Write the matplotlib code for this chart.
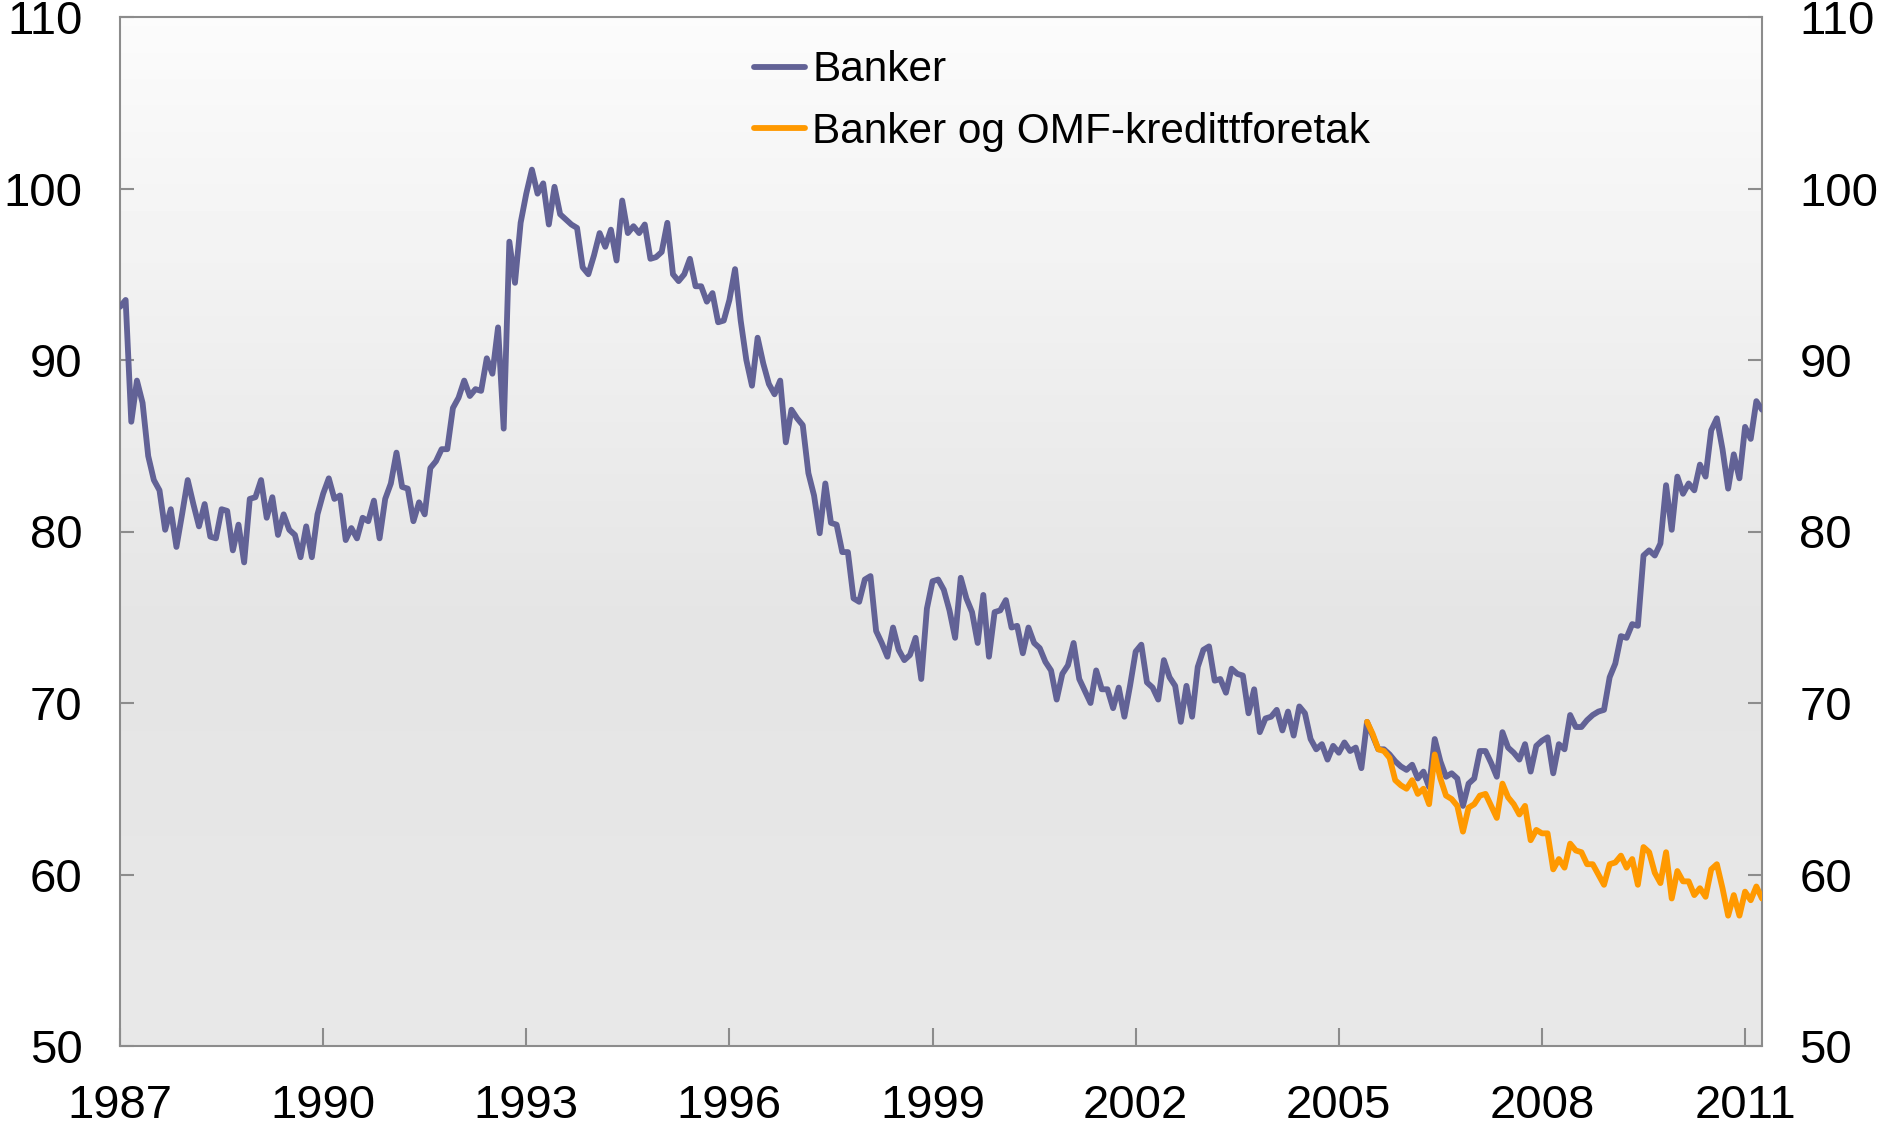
import numpy as np
import matplotlib
matplotlib.use("Agg")
import matplotlib.pyplot as plt

plt.rcParams['font.family'] = ['Liberation Sans', 'DejaVu Sans']

# månedlige verdier, jan 1987 - apr 2011
start_year = 1987
banker = [
    93.1, 93.5, 86.4, 88.8, 87.5, 84.4, 83.0, 82.4, 80.1, 81.3, 79.1, 81.0,
    83.0, 81.6, 80.3, 81.6, 79.7, 79.6, 81.3, 81.2, 78.9, 80.4, 78.2, 81.9,
    82.0, 83.0, 80.8, 82.0, 79.8, 81.0, 80.1, 79.8, 78.5, 80.3, 78.5, 81.0,
    82.2, 83.1, 81.9, 82.1, 79.5, 80.2, 79.6, 80.8, 80.6, 81.8, 79.6, 81.9,
    82.8, 84.6, 82.6, 82.5, 80.6, 81.7, 81.0, 83.7, 84.1, 84.8, 84.8, 87.2,
    87.8, 88.8, 87.9, 88.3, 88.2, 90.1, 89.2, 91.9, 86.0, 96.9, 94.5, 98.0,
    99.7, 101.1, 99.7, 100.3, 97.9, 100.1, 98.5, 98.2, 97.9, 97.7, 95.4, 95.0,
    96.1, 97.4, 96.6, 97.6, 95.8, 99.3, 97.4, 97.8, 97.4, 97.9, 95.9, 96.0,
    96.3, 98.0, 95.0, 94.6, 95.0, 95.9, 94.3, 94.3, 93.4, 93.9, 92.2, 92.3,
    93.5, 95.3, 92.3, 90.0, 88.5, 91.3, 89.8, 88.6, 88.0, 88.8, 85.2, 87.1,
    86.6, 86.2, 83.4, 82.1, 79.9, 82.8, 80.5, 80.4, 78.8, 78.8, 76.1, 75.9,
    77.2, 77.4, 74.2, 73.5, 72.7, 74.4, 73.1, 72.5, 72.8, 73.8, 71.4, 75.5,
    77.1, 77.2, 76.6, 75.4, 73.8, 77.3, 76.1, 75.3, 73.5, 76.3, 72.7, 75.3,
    75.4, 76.0, 74.4, 74.5, 72.9, 74.4, 73.5, 73.2, 72.4, 71.9, 70.2, 71.7,
    72.2, 73.5, 71.4, 70.7, 70.0, 71.9, 70.8, 70.8, 69.7, 70.9, 69.2, 71.0,
    73.0, 73.4, 71.2, 70.9, 70.2, 72.5, 71.5, 71.0, 68.9, 71.0, 69.2, 72.1,
    73.1, 73.3, 71.3, 71.4, 70.6, 72.0, 71.7, 71.6, 69.4, 70.8, 68.3, 69.1,
    69.2, 69.6, 68.4, 69.5, 68.1, 69.8, 69.4, 67.9, 67.3, 67.6, 66.7, 67.5,
    67.1, 67.7, 67.2, 67.4, 66.2, 68.9, 68.1, 67.3, 67.3, 67.0, 66.6, 66.3,
    66.1, 66.4, 65.6, 66.0, 65.1, 67.9, 66.6, 65.7, 65.9, 65.6, 64.0, 65.3,
    65.6, 67.2, 67.2, 66.5, 65.7, 68.3, 67.4, 67.1, 66.7, 67.6, 66.0, 67.5,
    67.8, 68.0, 65.9, 67.6, 67.3, 69.3, 68.6, 68.6, 69.0, 69.3, 69.5, 69.6,
    71.5, 72.3, 73.9, 73.8, 74.6, 74.5, 78.6, 78.9, 78.6, 79.3, 82.7, 80.1,
    83.2, 82.2, 82.8, 82.4, 83.9, 83.2, 85.9, 86.6, 84.8, 82.5, 84.5, 83.1,
    86.1, 85.4, 87.6, 87.1,
]

# starter juni 2005 (måned nr. 221 fra jan 1987)
omf_start = 221
banker_omf = [
    68.9, 68.2, 67.3, 67.2, 66.8, 65.5, 65.2, 65.0, 65.5, 64.7, 65.0, 64.1,
    67.0, 65.6, 64.6, 64.4, 64.0, 62.5, 63.9, 64.1, 64.6, 64.7, 64.0, 63.3,
    65.3, 64.5, 64.1, 63.5, 64.0, 62.0, 62.6, 62.4, 62.4, 60.3, 60.9, 60.4,
    61.8, 61.4, 61.3, 60.6, 60.6, 60.0, 59.4, 60.6, 60.7, 61.1, 60.4, 60.9,
    59.4, 61.6, 61.3, 60.1, 59.5, 61.3, 58.6, 60.2, 59.6, 59.6, 58.8, 59.2,
    58.7, 60.3, 60.6, 59.2, 57.6, 58.8, 57.6, 59.0, 58.5, 59.3, 58.6,
]

labels = ['Banker', 'Banker og OMF-kredittforetak']
colors = ['#626296', '#ff9900']
year_ticks = list(range(1987, 2012, 3))
y_ticks = list(range(50, 111, 10))

x1 = start_year + np.arange(len(banker)) / 12
x2 = start_year + (omf_start + np.arange(len(banker_omf))) / 12

fig = plt.figure(figsize=(18.83, 11.24), dpi=100)
ax = fig.add_axes([120 / 1883, 1 - 1046 / 1124, 1642 / 1883, 1029 / 1124])

# bakgrunn med gradient
grad = np.concatenate([np.linspace(0.985, 0.895, 60), np.linspace(0.895, 0.91, 40)])
ax.imshow(grad[:, None], cmap='gray', vmin=0, vmax=1, aspect='auto',
          extent=[0, 1, 0, 1], transform=ax.transAxes, zorder=0,
          interpolation='bilinear')

ax.plot(x1, banker, color=colors[0], lw=4.2, label=labels[0],
        solid_joinstyle='round', solid_capstyle='round', zorder=3)
ax.plot(x2, banker_omf, color=colors[1], lw=4.2, label=labels[1],
        solid_joinstyle='round', solid_capstyle='round', zorder=4)

ax.set_xlim(start_year, x1[-1])
ax.set_ylim(50, 110)
ax.set_xticks(year_ticks)
ax.set_yticks(y_ticks)

for sp in ax.spines.values():
    sp.set_color('#8c8c8c')
    sp.set_linewidth(1.5)

ax.tick_params(axis='y', which='both', direction='in', length=10, width=1.5,
               color='#8c8c8c', labelsize=34, pad=27, left=True, right=True,
               labelleft=True, labelright=True)
ax.tick_params(axis='x', direction='in', length=13, width=1.5,
               color='#8c8c8c', labelsize=34, pad=27)

leg = ax.legend(loc='upper left', bbox_to_anchor=(0.376, 0.984), frameon=False,
                fontsize=30.5, handlelength=1.2, handletextpad=0.17,
                labelspacing=0.5, borderaxespad=0)
for line in leg.get_lines():
    line.set_solid_capstyle('round')

fig.savefig('out.png', dpi=100)
